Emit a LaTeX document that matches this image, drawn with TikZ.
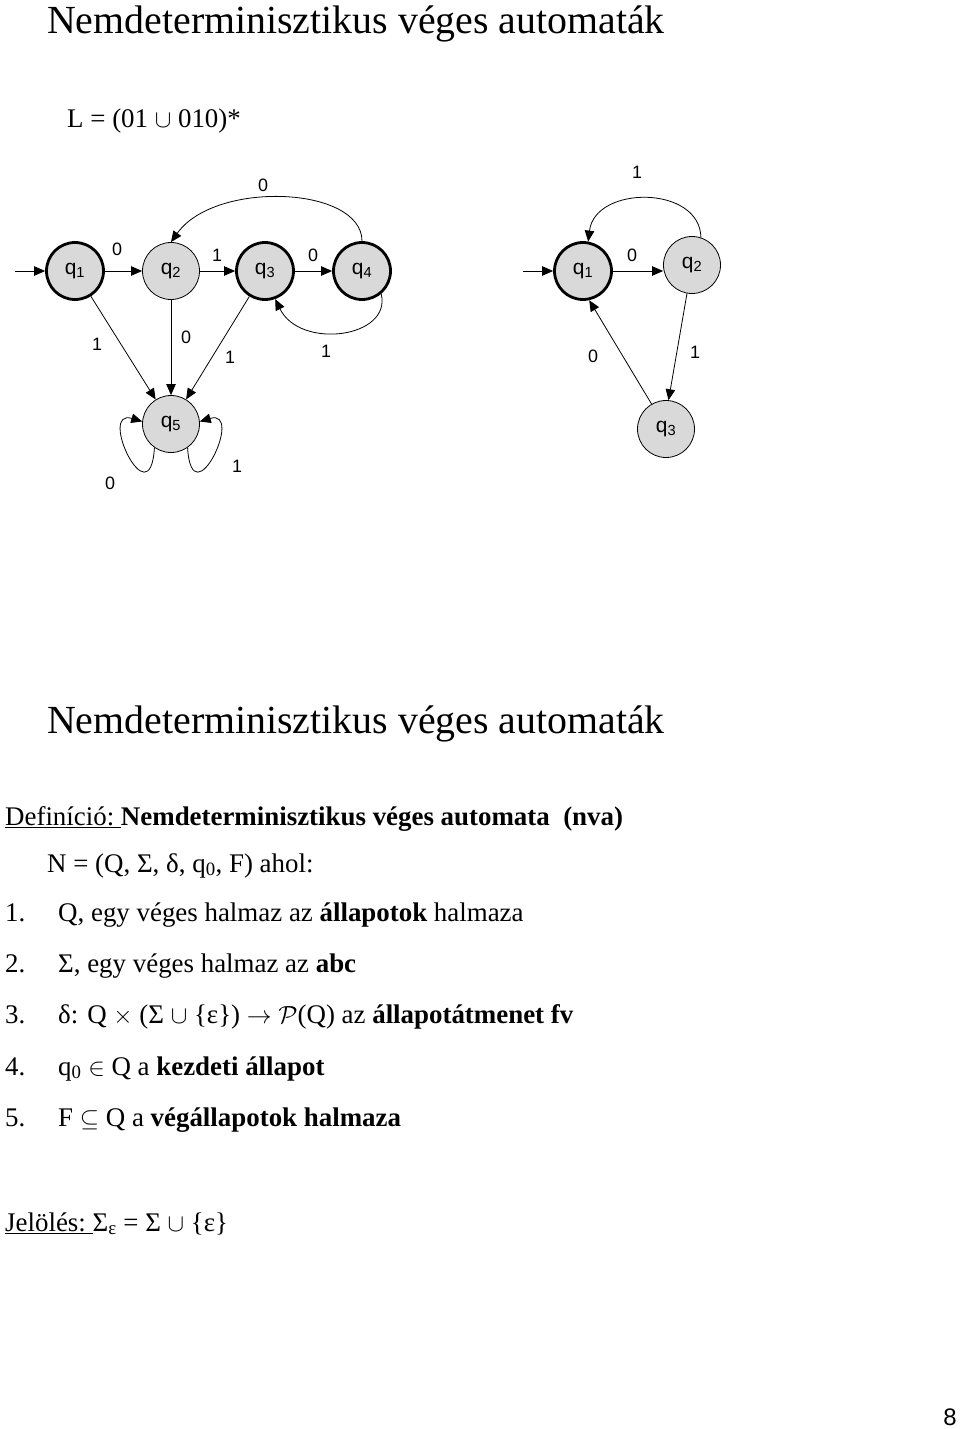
\documentclass[tikz,border=0pt]{standalone}
\usepackage{fontspec}
\setmainfont{Liberation Serif}
\setsansfont{Liberation Sans}
\usetikzlibrary{arrows.meta}

\definecolor{stgray}{gray}{0.85}

\begin{document}
\begin{tikzpicture}[x=1bp,y=-1bp,
   st/.style={circle,draw,fill=stgray,minimum size=57bp,inner sep=0pt,line width=0.8pt,
              font=\sffamily\fontsize{21}{23}\selectfont},
   fin/.style={st,line width=2.8pt},
   lbl/.style={font=\sffamily\fontsize{18}{20}\selectfont,inner sep=0pt},
   tr/.style={-{Triangle[length=11pt,width=9.5pt]},line width=0.8pt},
   body/.style={anchor=base west,inner sep=0pt,font=\fontsize{27}{30}\selectfont},
   head/.style={anchor=base west,inner sep=0pt,font=\fontsize{40}{44}\selectfont}]
   \useasboundingbox (0,0) rectangle (960,1429);

   % title and language
   \node[head] (t1) at (47,34) {Nemdeterminisztikus véges automaták};
   \node[body] (lang) at (67,128) {L = (01 $\cup$ 010)*};

   % left automaton
   \coordinate (in1) at (15,271);
   \node[fin] (q1) at (75,271) {q\textsubscript{1}};
   \node[st]  (q2) at (171,271) {q\textsubscript{2}};
   \node[fin] (q3) at (265,271) {q\textsubscript{3}};
   \node[fin] (q4) at (362,271) {q\textsubscript{4}};
   \node[st]  (q5) at (171,424) {q\textsubscript{5}};
   \draw[tr] (in1) -- (q1);
   \draw[tr] (q1) -- (q2);
   \draw[tr] (q2) -- (q3);
   \draw[tr] (q3) -- (q4);
   \draw[tr] (q4.north) .. controls (362,186) and (215,180) .. (q2.north);
   \draw[tr] (q4.-50) .. controls (392,338) and (300,350) .. (q3.-70);
   \draw[tr] (q1) -- (q5);
   \draw[tr] (q2) -- (q5);
   \draw[tr] (q3) -- (q5);
   \draw[tr] (q5.235) .. controls (150,520) and (97,408) .. (q5.175);
   \draw[tr] (q5.-55) .. controls (192,520) and (245,408) .. (q5.5);
   \node[lbl] (a12) at (117,249) {0};
   \node[lbl] (a23) at (217,255) {1};
   \node[lbl] (a34) at (313,255) {0};
   \node[lbl] (a42) at (263,185) {0};
   \node[lbl] (a43) at (326,351) {1};
   \node[lbl] (a15) at (97,344) {1};
   \node[lbl] (a25) at (186,337) {0};
   \node[lbl] (a35) at (230,357) {1};
   \node[lbl] (a55) at (110,483) {0};
   \node[lbl] (b55) at (237,466) {1};

   % right automaton
   \coordinate (in2) at (523,271);
   \node[fin] (p1) at (583,271) {q\textsubscript{1}};
   \node[st]  (p2) at (692,265) {q\textsubscript{2}};
   \node[st]  (p3) at (666,429) {q\textsubscript{3}};
   \draw[tr] (in2) -- (p1);
   \draw[tr] (p1.east) -- (p1.east -| p2.west);
   \draw[tr] (p2.72) .. controls (700,185) and (595,185) .. (p1.80);
   \draw[tr] (p2.-100) -- (p3.85);
   \draw[tr] (p3.120) -- (p1.-78);
   \node[lbl] (c12) at (632,255) {0};
   \node[lbl] (c21) at (637,172) {1};
   \node[lbl] (c23) at (695,352) {1};
   \node[lbl] (c31) at (593,356) {0};

   % definition
   \node[head] (t2) at (47,733) {Nemdeterminisztikus véges automaták};
   \node[body] (def) at (5,825) {\underline{Definíció:\ }\textbf{Nemdeterminisztikus véges automata\ \ (nva)}};
   \node[body] (tup) at (47,872) {N = (Q, Σ, δ, q\textsubscript{0}, F) ahol:};
   \node[body] (i1) at (5,921) {\makebox[53bp][l]{1.}Q, egy véges halmaz az \textbf{állapotok} halmaza};
   \node[body] (i2) at (5,972) {\makebox[53bp][l]{2.}Σ, egy véges halmaz az \textbf{abc}};
   \node[body] (i3) at (5,1023) {\makebox[53bp][l]{3.}δ: Q $\times$ (Σ $\cup$ \{ε\}) $\to$ $\mathcal{P}$(Q) az \textbf{állapotátmenet fv}};
   \node[body] (i4) at (5,1075) {\makebox[53bp][l]{4.}q\textsubscript{0} $\in$ Q a \textbf{kezdeti állapot}};
   \node[body] (i5) at (5,1126) {\makebox[53bp][l]{5.}F $\subseteq$ Q a \textbf{végállapotok halmaza}};
   \node[body] (jel) at (5,1231) {\underline{Jelölés:\ }Σ\textsubscript{ε} = Σ $\cup$ \{ε\}};

   \node[font=\sffamily\fontsize{24}{26}\selectfont,inner sep=0pt] (pg) at (950,1417) {8};
\end{tikzpicture}
\end{document}
